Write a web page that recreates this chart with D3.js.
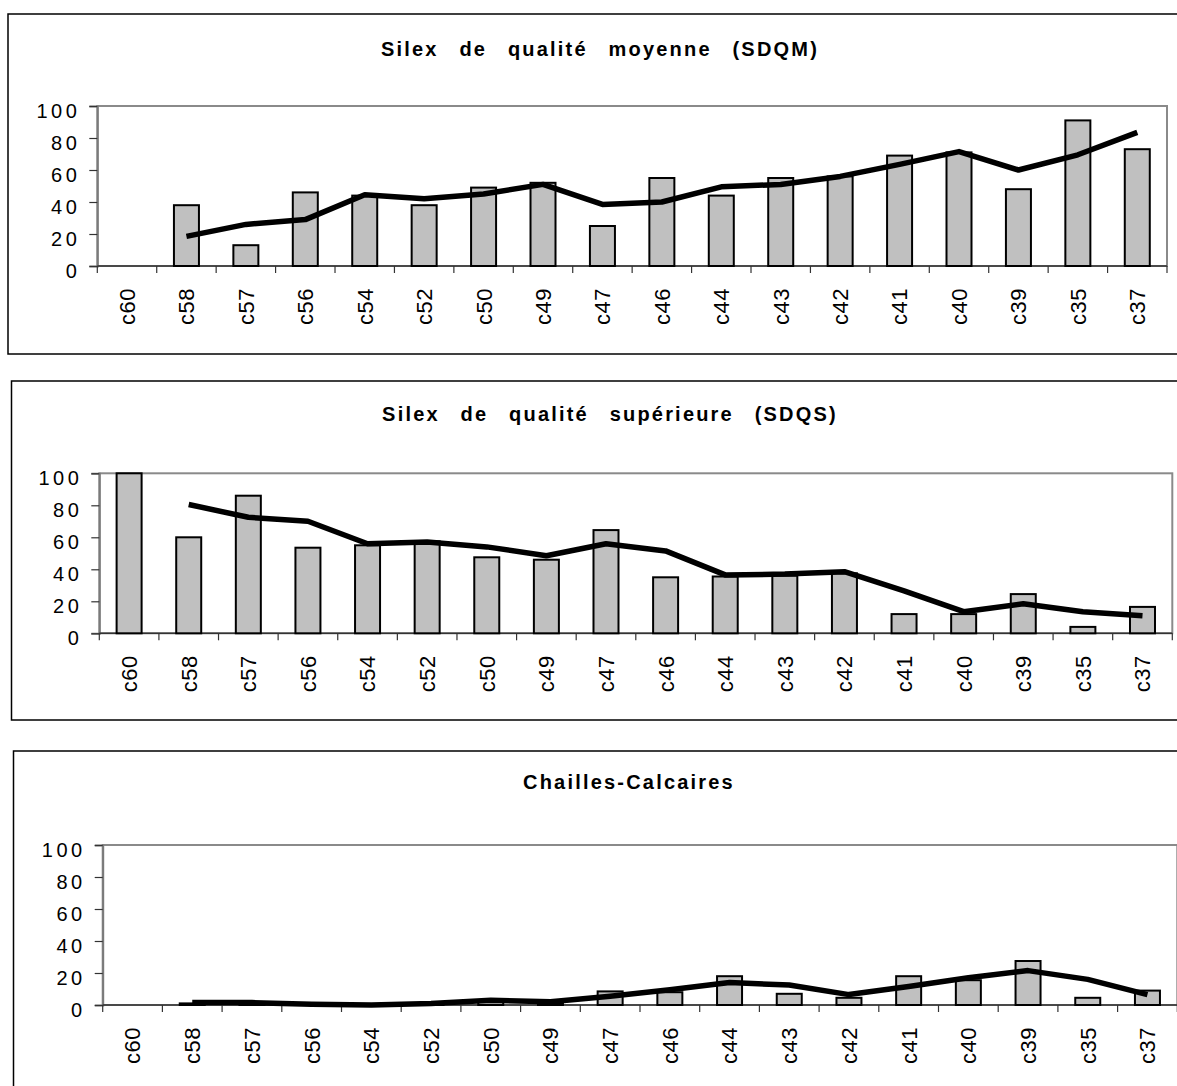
<!DOCTYPE html>
<html>
<head>
<meta charset="utf-8">
<script src="https://cdn.jsdelivr.net/npm/d3@7/dist/d3.min.js"></script>
<style>
  html, body { margin: 0; padding: 0; background: #fff; }
  svg { display: block; }
</style>
</head>
<body>
<svg id="chart" width="1177" height="1086"></svg>
<script>
// ---------------- data ----------------
const categories = ["c60","c58","c57","c56","c54","c52","c50","c49","c47","c46","c44","c43","c42","c41","c40","c39","c35","c37"];
const yTickValues = [0, 20, 40, 60, 80, 100];

const titles = [
  "Silex de qualité moyenne (SDQM)",
  "Silex de qualité supérieure (SDQS)",
  "Chailles-Calcaires"
];

// bars (percent)
const sdqmBars = [null, 38, 13, 46, 44, 38, 49, 52, 25, 55, 44, 55, 56, 69, 71, 48, 91, 73];
const sdqsBars = [100, 60, 86, 53.5, 55, 57.5, 47.5, 46, 64.5, 35, 35.5, 36, 37.5, 12, 12, 24.5, 4, 16.5];
const chaillesBars = [0, 1, 1.5, 0, 0, 1, 2, 1, 8.5, 8, 18, 7, 4.5, 18, 15.5, 27.5, 4.5, 9];

// trend lines
const sdqmLine = [null, 18.5, 26, 29, 44.5, 42, 45, 51, 38.5, 40, 49.5, 51, 56, 63.5, 71.5, 60, 69.5, 83.5];
const sdqsLine = [null, 80.5, 72.5, 70, 56, 57, 54, 48.5, 56, 51.5, 36.5, 37, 38.5, 26.5, 13.5, 18.5, 13.5, 11];
const chaillesLine = [null, 1.5, 1.5, 0.5, 0, 1, 3, 2, 5.5, 9.5, 14, 12.5, 6.5, 11.5, 17, 21.5, 16, 6.5];

// ---------------- layout ----------------
const panels = [
  { title: titles[0], bars: sdqmBars, line: sdqmLine,
    box: {x: 8, y: 14, w: 1200, h: 340},
    plot: {x: 97.3, y: 106, w: 1069.7, h: 160},
    titleX: 600, titleY: 56 },
  { title: titles[1], bars: sdqsBars, line: sdqsLine,
    box: {x: 11.5, y: 381, w: 1210, h: 339},
    plot: {x: 99.3, y: 473.3, w: 1073, h: 160},
    titleX: 610, titleY: 421 },
  { title: titles[2], bars: chaillesBars, line: chaillesLine,
    box: {x: 13.5, y: 751, w: 1250, h: 400},
    plot: {x: 102.7, y: 845, w: 1074.6, h: 160},
    titleX: 629, titleY: 789 }
];

const svg = d3.select("#chart");
const FONT = "Arial, 'Liberation Sans', Helvetica, sans-serif";

panels.forEach(p => {
  const g = svg.append("g");

  // outer frame
  g.append("rect")
    .attr("x", p.box.x).attr("y", p.box.y)
    .attr("width", p.box.w).attr("height", p.box.h)
    .attr("fill", "none").attr("stroke", "#000").attr("stroke-width", 1.5);

  // title
  g.append("text")
    .attr("x", p.titleX).attr("y", p.titleY)
    .attr("text-anchor", "middle")
    .style("font-family", FONT)
    .style("font-weight", "bold")
    .style("font-size", "20px")
    .style("letter-spacing", "2.2px")
    .style("word-spacing", "13px")
    .attr("fill", "#000")
    .text(p.title);

  const x = d3.scaleBand()
    .domain(categories)
    .range([p.plot.x, p.plot.x + p.plot.w])
    .paddingInner(0).paddingOuter(0);

  const y = d3.scaleLinear()
    .domain([0, 100])
    .range([p.plot.y + p.plot.h, p.plot.y]);

  const y0 = y(0);

  // plot area border (grey)
  g.append("rect")
    .attr("x", p.plot.x).attr("y", p.plot.y)
    .attr("width", p.plot.w).attr("height", p.plot.h)
    .attr("fill", "none").attr("stroke", "#8a8a8a").attr("stroke-width", 2);

  // y axis
  const yAxis = d3.axisLeft(y).tickValues(yTickValues).tickSize(8).tickPadding(12);
  const ya = g.append("g").attr("transform", `translate(${p.plot.x},0)`).call(yAxis);
  ya.select(".domain").attr("stroke", "#7a7a7a").attr("stroke-width", 2);
  ya.selectAll(".tick line").attr("stroke", "#333").attr("stroke-width", 1.2);
  ya.selectAll(".tick text")
    .style("font-family", FONT)
    .style("font-size", "20px")
    .style("letter-spacing", "3.5px")
    .attr("fill", "#000")
    .attr("dy", "0.55em")
    .attr("x", -17);

  // x axis : tick marks at band boundaries
  const bounds = categories.map(c => x(c)).concat([p.plot.x + p.plot.w]);
  g.append("line")
    .attr("x1", p.plot.x).attr("x2", p.plot.x + p.plot.w)
    .attr("y1", y0).attr("y2", y0)
    .attr("stroke", "#333").attr("stroke-width", 1.5);
  g.selectAll(".xtick").data(bounds).enter().append("line")
    .attr("class", "xtick")
    .attr("x1", d => d).attr("x2", d => d)
    .attr("y1", y0).attr("y2", y0 + 7)
    .attr("stroke", "#333").attr("stroke-width", 1.2);

  // category labels (rotated)
  g.selectAll(".xlab").data(categories).enter().append("text")
    .attr("class", "xlab")
    .attr("transform", d => `translate(${x(d) + x.bandwidth() / 2},${y0 + 22}) rotate(-90)`)
    .attr("text-anchor", "end")
    .attr("dy", "0.36em")
    .style("font-family", FONT)
    .style("font-size", "22px")
    .style("letter-spacing", "0.5px")
    .attr("fill", "#000")
    .text(d => d);

  // bars
  const barW = 25;
  const barData = categories.map((c, i) => ({c, v: p.bars[i]})).filter(d => d.v != null && d.v > 0);
  g.selectAll(".bar").data(barData).enter().append("rect")
    .attr("class", "bar")
    .attr("x", d => x(d.c) + x.bandwidth() / 2 - barW / 2)
    .attr("width", barW)
    .attr("y", d => y(d.v))
    .attr("height", d => y0 - y(d.v))
    .attr("fill", "#c0c0c0")
    .attr("stroke", "#000")
    .attr("stroke-width", 2);

  // trend line
  const lineData = categories.map((c, i) => ({c, v: p.line[i]}));
  const lineGen = d3.line()
    .defined(d => d.v != null)
    .x(d => x(d.c) + x.bandwidth() / 2)
    .y(d => y(d.v));
  g.append("path")
    .datum(lineData)
    .attr("d", lineGen)
    .attr("fill", "none")
    .attr("stroke", "#000")
    .attr("stroke-width", 5.5)
    .attr("stroke-linejoin", "round");
});
</script>
</body>
</html>
